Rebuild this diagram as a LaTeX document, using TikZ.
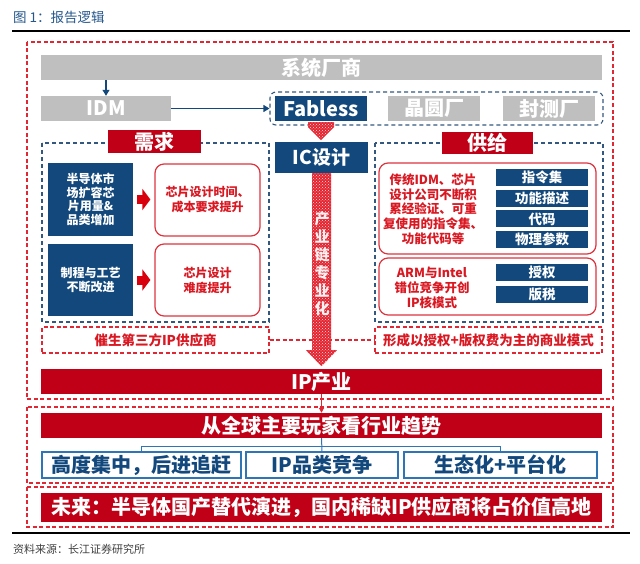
\documentclass[tikz,border=0pt]{standalone}
\usepackage{fontspec}
\setmainfont{Noto Sans CJK SC}
\usetikzlibrary{arrows.meta,patterns}
\definecolor{dred}{RGB}{192,0,22}
\definecolor{navy}{RGB}{18,72,124}
\definecolor{lgray}{RGB}{191,191,191}
\definecolor{dashblue}{RGB}{50,88,128}
\definecolor{dashred}{RGB}{224,40,52}
\definecolor{rred}{RGB}{222,52,62}
\definecolor{txtred}{RGB}{218,24,34}
\definecolor{bblue}{RGB}{46,117,182}
\definecolor{ttlblue}{RGB}{38,88,140}
\definecolor{hatch}{RGB}{228,36,48}
\tikzset{
 fs/.style 2 args={font=\fontsize{#1}{#2}\selectfont\bfseries},
 box/.style={inner sep=0pt, align=center, text=white},
 graybar/.style={box, fill=lgray},
 navybox/.style={box, fill=navy},
 redbar/.style={box, fill=dred},
 redround/.style={draw=rred, line width=1.2pt, rounded corners=9pt, fill=white, inner sep=0pt},
 rdash/.style={draw=dashred, line width=1.1pt, dash pattern=on 4pt off 2.5pt},
 bdash/.style={draw=dashblue, line width=1.1pt, dash pattern=on 4pt off 3pt},
 bluearrow/.style={draw=navy, line width=1.1pt, -{Triangle[length=6pt,width=7pt]}},
 hatchfill/.style={fill=hatch, postaction={pattern=crosshatch dots, pattern color=white!85!hatch}},
 bluebox/.style={draw=bblue, line width=1.2pt, fill=white, inner sep=0pt, text=navy},
}
\begin{document}
\begin{tikzpicture}[x=1pt,y=-1pt]
\useasboundingbox (0,0) rectangle (640,564);
% title and rules
\node[anchor=west, text=ttlblue, font=\fontsize{13.5}{15}\selectfont, inner sep=0pt] (title) at (13,17) {图 1：报告逻辑};
\draw[line width=1.3pt] (12,31) -- (630,31);
\draw[line width=1.3pt] (12,533) -- (630,533);
\node[anchor=west, text=black!75, font=\fontsize{11}{13}\selectfont, inner sep=0pt] (src) at (13,549) {资料来源：长江证券研究所};
% outer dashed frames
\draw[rdash] (27,42) rectangle (613,399);
\draw[rdash] (27,407) rectangle (613,483);
\draw[rdash] (27,487) rectangle (613,527);
% top row
\node[graybar, fs={20}{22}, minimum width=561pt, minimum height=25pt] (sys) at (321.5,67.5) {系统厂商};
\node[graybar, fs={20}{22}, minimum width=130pt, minimum height=25pt] (idm) at (106,108.5) {IDM};
\node[bdash, rounded corners=6pt, minimum width=333pt, minimum height=33pt, inner sep=0pt] (grp) at (436.5,108.5) {};
\node[navybox, fs={20}{22}, minimum width=92pt, minimum height=25pt] (fab) at (321,108.5) {Fabless};
\node[graybar, fs={20}{22}, minimum width=92pt, minimum height=25pt] (jy) at (434,108.5) {晶圆厂};
\node[graybar, fs={20}{22}, minimum width=92pt, minimum height=25pt] (fc) at (549,108.5) {封测厂};
\draw[bluearrow] (idm.north |- sys.south) -- (idm.north);
\draw[bluearrow] (idm.east) -- (grp.west);
% IC design
\node[navybox, fs={19}{21}, minimum width=93pt, minimum height=31pt] (ic) at (321.5,157.5) {IC设计};
\fill[hatchfill] (fab.south) ++(-13,1) -- ++(26,0) -- ++(0,5) -- ++(-13,13) -- ++(-13,-13) -- cycle;
% left (demand)
\draw[bdash] (42,143) rectangle (269,322);
\node[redbar, fs={20}{22}, minimum width=93pt, minimum height=23pt] (need) at (154.5,141.5) {需求};
\node[navybox, fs={12}{13.5}, minimum width=85pt, minimum height=73pt] (lb1) at (90.5,199.5) {半导体市\\场扩容芯\\片用量\&\\品类增加};
\node[navybox, fs={12}{13.5}, minimum width=85pt, minimum height=72pt] (lb2) at (90.5,280) {制程与工艺\\不断改进};
\node[redround, text=txtred, align=center, fs={12}{15}, minimum width=105pt, minimum height=72pt] (la) at (207.5,200) {芯片设计时间、\\成本要求提升};
\node[redround, text=txtred, align=center, fs={12}{15}, minimum width=105pt, minimum height=72pt] (lbb) at (207.5,280) {芯片设计\\难度提升};
\draw[dred!60!red, line width=9pt, shorten <=4pt, shorten >=4pt, -{Triangle[length=8pt,width=21pt]}] (lb1.east) -- (la.west |- lb1.east);
\draw[dred!60!red, line width=9pt, shorten <=4pt, shorten >=4pt, -{Triangle[length=8pt,width=21pt]}] (lb2.east) -- (lbb.west |- lb2.east);
\node[rdash, text=txtred, fs={13.5}{15}, minimum width=227pt, minimum height=26pt, inner sep=0pt] (cs) at (155.5,340) {催生第三方IP供应商};
% right (supply)
\draw[bdash] (375,143) rectangle (603,322);
\node[redbar, fs={20}{22}, minimum width=91pt, minimum height=22pt] (sup) at (487.5,143) {供给};
\node[redround, minimum width=217pt, minimum height=91pt] (rr1) at (487.5,208.5) {};
\node[text=txtred, align=center, fs={12.5}{14.8}, inner sep=0pt] (rr1t) at (433,209) {传统IDM、芯片\\设计公司不断积\\累经验证、可重\\复使用的指令集、\\功能代码等};
\node[navybox, fs={13.5}{15}, minimum width=92pt, minimum height=17pt] (s1) at (542,177.5) {指令集};
\node[navybox, fs={13.5}{15}, minimum width=92pt, minimum height=17pt] (s2) at (542,198.2) {功能描述};
\node[navybox, fs={13.5}{15}, minimum width=92pt, minimum height=17pt] (s3) at (542,218.9) {代码};
\node[navybox, fs={13.5}{15}, minimum width=92pt, minimum height=17pt] (s4) at (542,239.6) {物理参数};
\node[redround, minimum width=217pt, minimum height=57pt] (rr2) at (487.5,286.5) {};
\node[text=txtred, align=center, fs={12.5}{15}, inner sep=0pt] (rr2t) at (432,288) {ARM与Intel\\错位竞争开创\\IP核模式};
\node[navybox, fs={13.5}{15}, minimum width=92pt, minimum height=17pt] (s5) at (542,272.5) {授权};
\node[navybox, fs={13.5}{15}, minimum width=92pt, minimum height=17pt] (s6) at (542,294.5) {版税};
\node[rdash, text=txtred, fs={13.5}{15}, minimum width=227pt, minimum height=26pt, inner sep=0pt] (fx) at (488.5,340) {形成以授权+版权费为主的商业模式};
% dashed link behind the big arrow
\draw[rdash] (cs.east) -- (fx.west);
% big hatched arrow
\fill[hatchfill] (ic.south) ++(-9.5,0) -- ++(19,0) -- ++(0,177) -- ++(6,0) -- ++(-15.5,16) -- ++(-15.5,-16) -- ++(6,0) -- cycle;
\node[text=white, opacity=0.92, align=center, fs={15}{18}, inner sep=0pt] (vt) at (322,264) {产\\业\\链\\专\\业\\化};
% IP industry
\node[redbar, fs={20}{22}, minimum width=561pt, minimum height=25pt] (ip) at (321.5,381.5) {IP产业};
\node[redbar, fs={20}{22}, minimum width=561pt, minimum height=25pt] (qq) at (321.5,425.5) {从全球主要玩家看行业趋势};
\draw[dashred, line width=1pt, -{Triangle[length=5pt,width=5pt]}] (ip.south) -- (qq.north);
\node[bluebox, fs={20}{22}, minimum width=199pt, minimum height=26pt] (ta) at (141.5,465) {高度集中，后进追赶};
\node[bluebox, fs={20}{22}, minimum width=152pt, minimum height=26pt] (tb) at (322,465) {IP品类竞争};
\node[bluebox, fs={20}{22}, minimum width=193pt, minimum height=26pt] (tc) at (500.5,465) {生态化+平台化};
\draw[bblue, line width=1pt] (ta.north) -- ++(0,-5) -| (tc.north);
\draw[bblue, line width=1pt] (qq.south) -- (tb.north);
% future
\node[redbar, fs={20}{22}, minimum width=561pt, minimum height=29pt] (fut) at (321.5,507.5) {未来：半导体国产替代演进，国内稀缺IP供应商将占价值高地};
\end{tikzpicture}
\end{document}
